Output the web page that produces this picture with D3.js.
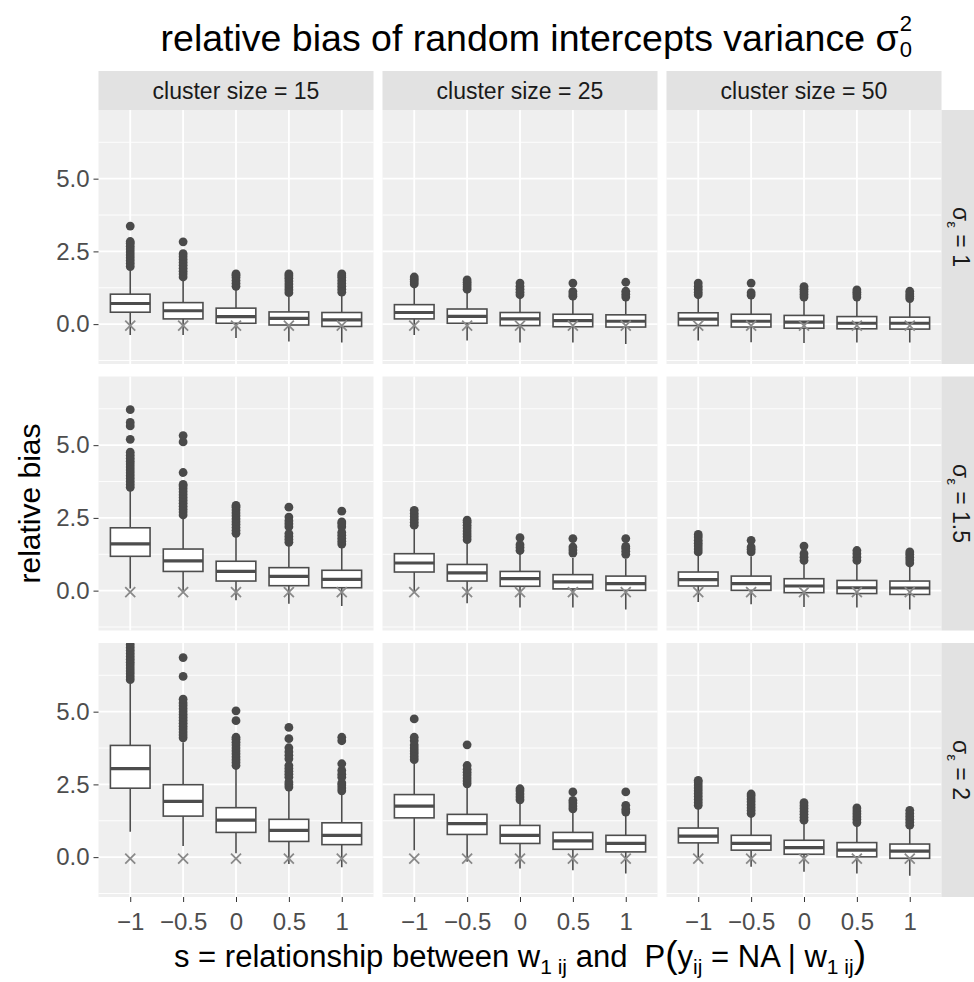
<!DOCTYPE html>
<html>
<head>
<meta charset="utf-8">
<script src="https://cdn.jsdelivr.net/npm/d3@7"></script>
<style>
  body { margin: 0; background: #fff; }
  text { font-family: "Liberation Sans", Arial, sans-serif; }
</style>
</head>
<body>
<div id="chart"></div>
<script>
(function() {
  var sLevels = ["-1", "-0.5", "0", "0.5", "1"];
  var sLabels = ["\u22121", "\u22120.5", "0", "0.5", "1"];
  var clusterSizes = ["15", "25", "50"];
  var sigmaEps = ["1", "1.5", "2"];
  var yTicks = [0, 2.5, 5];
  var yMinor = [-1.25, 1.25, 3.75, 6.25];

  // one entry per panel: sigma_eps = 1 (cs 15, 25, 50), 1.5 (...), 2 (...)
  var whiskerLow = [
    [-0.37, -0.37, -0.48, -0.60, -0.63],
    [-0.37, -0.56, -0.63, -0.63, -0.68],
    [-0.56, -0.62, -0.65, -0.63, -0.63],
    [0.07, 0.00, -0.33, -0.45, -0.53],
    [-0.05, -0.43, -0.58, -0.58, -0.65],
    [-0.39, -0.47, -0.56, -0.58, -0.65],
    [0.87, 0.38, 0.13, -0.24, -0.35],
    [0.24, -0.16, -0.39, -0.45, -0.56],
    [0.00, -0.33, -0.50, -0.56, -0.64]
  ];
  var q1 = [
    [0.41, 0.18, 0.03, -0.03, -0.08],
    [0.18, 0.03, -0.05, -0.09, -0.10],
    [-0.05, -0.10, -0.14, -0.16, -0.17],
    [1.18, 0.66, 0.33, 0.17, 0.10],
    [0.64, 0.33, 0.15, 0.06, 0.01],
    [0.16, 0.01, -0.07, -0.10, -0.13],
    [2.37, 1.41, 0.85, 0.54, 0.43],
    [1.35, 0.78, 0.47, 0.27, 0.18],
    [0.49, 0.24, 0.10, 0.01, -0.04]
  ];
  var median = [
    [0.71, 0.46, 0.26, 0.20, 0.15],
    [0.40, 0.27, 0.18, 0.12, 0.10],
    [0.17, 0.10, 0.07, 0.03, 0.03],
    [1.61, 1.02, 0.66, 0.49, 0.39],
    [0.95, 0.61, 0.41, 0.30, 0.24],
    [0.38, 0.24, 0.16, 0.10, 0.09],
    [3.04, 1.92, 1.27, 0.92, 0.75],
    [1.75, 1.15, 0.75, 0.56, 0.47],
    [0.72, 0.47, 0.33, 0.24, 0.21]
  ];
  var q3 = [
    [1.03, 0.74, 0.55, 0.42, 0.40],
    [0.67, 0.52, 0.40, 0.34, 0.32],
    [0.39, 0.34, 0.30, 0.26, 0.24],
    [2.16, 1.43, 1.01, 0.79, 0.70],
    [1.27, 0.90, 0.66, 0.55, 0.50],
    [0.64, 0.50, 0.41, 0.35, 0.33],
    [3.84, 2.49, 1.70, 1.30, 1.18],
    [2.15, 1.47, 1.09, 0.85, 0.75],
    [1.00, 0.75, 0.58, 0.50, 0.45]
  ];
  var whiskerHigh = [
    [1.85, 1.50, 1.18, 0.95, 0.97],
    [1.30, 1.10, 0.91, 0.83, 0.80],
    [0.90, 0.86, 0.80, 0.80, 0.75],
    [3.45, 2.50, 1.87, 1.56, 1.50],
    [2.13, 1.65, 1.27, 1.12, 1.10],
    [1.22, 1.18, 0.95, 0.93, 0.83],
    [5.97, 3.95, 3.04, 2.35, 2.18],
    [3.23, 2.40, 1.84, 1.55, 1.44],
    [1.67, 1.38, 1.18, 1.07, 0.98]
  ];
  var crossMark = [
    [-0.05, -0.05, -0.05, -0.05, -0.05],
    [-0.05, -0.05, -0.05, -0.05, -0.05],
    [-0.05, -0.05, -0.05, -0.05, -0.05],
    [-0.05, -0.05, -0.05, -0.05, -0.05],
    [-0.05, -0.05, -0.05, -0.05, -0.05],
    [-0.05, -0.05, -0.05, -0.05, -0.05],
    [-0.05, -0.05, -0.05, -0.05, -0.05],
    [-0.05, -0.05, -0.05, -0.05, -0.05],
    [-0.05, -0.05, -0.05, -0.05, -0.05]
  ];
  var outliers = [
    [[1.98, 2.08, 2.18, 2.28, 2.38, 2.48, 2.58, 2.68, 2.78, 2.84, 3.37],
     [1.62, 1.72, 1.82, 1.92, 2.02, 2.12, 2.22, 2.32, 2.42, 2.83],
     [1.30, 1.40, 1.50, 1.60, 1.68, 1.73],
     [1.08, 1.18, 1.28, 1.38, 1.48, 1.58, 1.66, 1.73],
     [1.10, 1.20, 1.30, 1.40, 1.50, 1.60, 1.66, 1.73]],
    [[1.38, 1.46, 1.54, 1.62],
     [1.20, 1.28, 1.36, 1.44, 1.52],
     [1.01, 1.10, 1.20, 1.30, 1.41],
     [0.96, 1.04, 1.12, 1.41],
     [0.93, 1.03, 1.13, 1.44]],
    [[1.01, 1.10, 1.20, 1.30, 1.41],
     [1.00, 1.08, 1.41],
     [0.93, 1.02, 1.11, 1.20, 1.29],
     [0.93, 1.02, 1.10, 1.18],
     [0.88, 0.96, 1.04, 1.13]],
    [[3.55, 3.65, 3.75, 3.85, 3.95, 4.05, 4.15, 4.25, 4.35, 4.45, 4.55, 4.65, 4.76, 5.20, 5.66, 5.78, 6.22],
     [2.60, 2.70, 2.80, 2.90, 3.00, 3.10, 3.20, 3.30, 3.40, 3.50, 3.60, 3.65, 4.06, 5.11, 5.33],
     [1.97, 2.07, 2.17, 2.27, 2.37, 2.47, 2.57, 2.67, 2.77, 2.87, 2.93],
     [1.66, 1.76, 1.86, 1.96, 2.20, 2.30, 2.40, 2.53, 2.87],
     [1.60, 1.70, 1.80, 1.90, 2.00, 2.20, 2.30, 2.36, 2.73]],
    [[2.25, 2.35, 2.45, 2.55, 2.65, 2.76],
     [1.75, 1.85, 1.95, 2.05, 2.15, 2.25, 2.35, 2.42],
     [1.38, 1.48, 1.58, 1.82],
     [1.29, 1.40, 1.50, 1.79],
     [1.25, 1.35, 1.45, 1.52, 1.79]],
    [[1.33, 1.43, 1.53, 1.63, 1.73, 1.84, 1.93],
     [1.33, 1.42, 1.50, 1.73],
     [1.04, 1.15, 1.27, 1.53],
     [1.04, 1.15, 1.27, 1.38],
     [0.95, 1.05, 1.15, 1.25, 1.33]],
    [[6.10, 6.20, 6.30, 6.40, 6.50, 6.60, 6.70, 6.80, 6.90, 7.00, 7.10, 7.20, 7.30],
     [4.10, 4.20, 4.30, 4.40, 4.50, 4.60, 4.70, 4.80, 4.90, 5.00, 5.10, 5.20, 5.30, 5.43, 6.21, 6.86],
     [3.15, 3.25, 3.35, 3.45, 3.55, 3.65, 3.75, 3.85, 3.95, 4.05, 4.12, 4.69, 5.03],
     [2.41, 2.50, 2.58, 2.75, 2.85, 2.95, 3.05, 3.15, 3.38, 3.50, 3.62, 3.76, 4.07, 4.46],
     [2.28, 2.38, 2.48, 2.55, 2.75, 2.85, 2.98, 3.21, 4.00, 4.12]],
    [[3.35, 3.45, 3.55, 3.65, 3.75, 3.85, 4.00, 4.12, 4.75],
     [2.52, 2.62, 2.72, 2.82, 2.92, 3.02, 3.15, 3.86],
     [1.97, 2.07, 2.17, 2.27, 2.35],
     [1.66, 1.76, 1.86, 1.95, 2.24],
     [1.55, 1.65, 1.78, 2.24]],
    [[1.78, 1.88, 1.98, 2.08, 2.18, 2.28, 2.38, 2.48, 2.58, 2.64],
     [1.50, 1.60, 1.70, 1.80, 1.90, 2.00, 2.10, 2.17],
     [1.27, 1.37, 1.47, 1.57, 1.67, 1.77, 1.87],
     [1.19, 1.29, 1.39, 1.49, 1.59, 1.69],
     [1.10, 1.20, 1.30, 1.40, 1.50, 1.61]]
  ];

  var width = 974,
     height = 982;

  var panelLeft = 98.5, panelTop = 110,
      panelW = 275, panelH = 254,
      gapX = 9, gapY = 12.5,
      stripH = 39, stripW = 32.5;

  var svg = d3.select("#chart")
  .append("svg")
  .attr("width", width)
  .attr("height", height);

  var boxColor = "#4d4d4d";

  // title, with sigma_0^2 stacked inside the same text element
  var titleSize = 37.5, titleY = 51;
  var titleCenter = panelLeft + (3 * panelW + 2 * gapX + stripW) / 2;
  var title = svg.append("text")
  .attr("x", titleCenter)
  .attr("y", titleY)
  .attr("text-anchor", "middle")
  .attr("font-size", titleSize)
  .attr("fill", "#000");
  title.append("tspan").text("relative bias of random intercepts variance \u03c3");
  title.append("tspan").attr("dx", 1).attr("dy", -20).attr("font-size", 22).text("2");
  title.append("tspan").attr("dx", -12.2).attr("dy", 26).attr("font-size", 22).text("0");

  var plotCenterX = panelLeft + (3 * panelW + 2 * gapX) / 2;
  var plotCenterY = panelTop + (3 * panelH + 2 * gapY) / 2;

  svg.append("text")
  .attr("transform", "translate(40," + plotCenterY + ") rotate(-90)")
  .attr("text-anchor", "middle")
  .attr("font-size", 30)
  .text("relative bias");

  var xt = svg.append("text")
  .attr("x", plotCenterX)
  .attr("y", 967)
  .attr("text-anchor", "middle")
  .attr("font-size", 31)
  .style("white-space", "pre");
  xt.append("tspan").text("s = relationship between w");
  xt.append("tspan").attr("dy", 7).attr("font-size", 21).text("1 ij");
  xt.append("tspan").attr("dy", -7).text(" and  P");
  xt.append("tspan").attr("font-size", 37).text("(");
  xt.append("tspan").text("y");
  xt.append("tspan").attr("dy", 7).attr("font-size", 21).text("ij");
  xt.append("tspan").attr("dy", -7).text(" = NA | w");
  xt.append("tspan").attr("dy", 7).attr("font-size", 21).text("1 ij");
  xt.append("tspan").attr("dy", -7).attr("font-size", 37).text(")");

  sigmaEps.forEach(function(se, r) {
    var top = panelTop + r * (panelH + gapY);
    var y = d3.scaleLinear().domain([-1.37, 7.36]).range([top + panelH, top]);

    clusterSizes.forEach(function(cs, c) {
      var left = panelLeft + c * (panelW + gapX);
      var x = d3.scalePoint().domain(sLevels).range([left, left + panelW]).padding(0.6);
      var bw = x.step() * 0.75;
      var p = r * 3 + c;

      var g = svg.append("g");

      // panel background and grid
      g.append("rect")
      .attr("x", left).attr("y", top)
      .attr("width", panelW).attr("height", panelH)
      .attr("fill", "#efefef");

      g.selectAll(".minor")
      .data(yMinor)
      .enter()
      .append("line")
      .attr("x1", left).attr("x2", left + panelW)
      .attr("y1", function(d) { return y(d); })
      .attr("y2", function(d) { return y(d); })
      .attr("stroke", "#fff").attr("stroke-width", 0.9);

      g.selectAll(".major")
      .data(yTicks)
      .enter()
      .append("line")
      .attr("x1", left).attr("x2", left + panelW)
      .attr("y1", function(d) { return y(d); })
      .attr("y2", function(d) { return y(d); })
      .attr("stroke", "#fff").attr("stroke-width", 1.8);

      g.selectAll(".vgrid")
      .data(sLevels)
      .enter()
      .append("line")
      .attr("x1", function(d) { return x(d); })
      .attr("x2", function(d) { return x(d); })
      .attr("y1", top).attr("y2", top + panelH)
      .attr("stroke", "#fff").attr("stroke-width", 1.8);

      var boxes = sLevels.map(function(s, i) {
        return {
          s: s, lo: whiskerLow[p][i], q1: q1[p][i], med: median[p][i],
          q3: q3[p][i], hi: whiskerHigh[p][i], mark: crossMark[p][i],
          out: outliers[p][i]
        };
      });

      var clip = "clip" + p;
      svg.append("clipPath").attr("id", clip)
      .append("rect")
      .attr("x", left).attr("y", top)
      .attr("width", panelW).attr("height", panelH);

      var box = g.append("g").attr("clip-path", "url(#" + clip + ")")
      .selectAll(".box")
      .data(boxes)
      .enter()
      .append("g");

      box.append("line")
      .attr("x1", function(d) { return x(d.s); })
      .attr("x2", function(d) { return x(d.s); })
      .attr("y1", function(d) { return y(d.hi); })
      .attr("y2", function(d) { return y(d.q3); })
      .attr("stroke", boxColor).attr("stroke-width", 1.6);

      box.append("line")
      .attr("x1", function(d) { return x(d.s); })
      .attr("x2", function(d) { return x(d.s); })
      .attr("y1", function(d) { return y(d.q1); })
      .attr("y2", function(d) { return y(d.lo); })
      .attr("stroke", boxColor).attr("stroke-width", 1.6);

      box.append("rect")
      .attr("x", function(d) { return x(d.s) - bw / 2; })
      .attr("width", bw)
      .attr("y", function(d) { return y(d.q3); })
      .attr("height", function(d) { return y(d.q1) - y(d.q3); })
      .attr("fill", "#fff")
      .attr("stroke", boxColor).attr("stroke-width", 1.6);

      box.append("line")
      .attr("x1", function(d) { return x(d.s) - bw / 2; })
      .attr("x2", function(d) { return x(d.s) + bw / 2; })
      .attr("y1", function(d) { return y(d.med); })
      .attr("y2", function(d) { return y(d.med); })
      .attr("stroke", boxColor).attr("stroke-width", 3.2);

      box.selectAll(".out")
      .data(function(d) { return d.out.map(function(v) { return { s: d.s, v: v }; }); })
      .enter()
      .append("circle")
      .attr("cx", function(d) { return x(d.s); })
      .attr("cy", function(d) { return y(d.v); })
      .attr("r", 4.4)
      .attr("fill", "#4a4a4a");

      // cross marker
      box.append("path")
      .attr("d", function(d) {
        var cx = x(d.s), cy = y(d.mark), k = 5;
        return "M" + (cx - k) + "," + (cy - k) + "L" + (cx + k) + "," + (cy + k) +
          "M" + (cx - k) + "," + (cy + k) + "L" + (cx + k) + "," + (cy - k);
      })
      .attr("stroke", "#8a8a8a").attr("stroke-width", 1.8).attr("fill", "none");

      // top strips
      if (r === 0) {
        svg.append("rect")
        .attr("x", left).attr("y", top - stripH)
        .attr("width", panelW).attr("height", stripH)
        .attr("fill", "#e2e2e2");
        svg.append("text")
        .attr("x", left + panelW / 2).attr("y", top - stripH / 2 + 8)
        .attr("text-anchor", "middle")
        .attr("font-size", 23)
        .attr("fill", "#1a1a1a")
        .text("cluster size = " + cs);
      }

      // x axis
      if (r === 2) {
        var xa = svg.append("g")
        .attr("transform", "translate(0," + (top + panelH) + ")")
        .call(d3.axisBottom(x).tickSize(5).tickPadding(11)
          .tickFormat(function(d, i) { return sLabels[i]; }));
        xa.select(".domain").remove();
        xa.selectAll("line").attr("stroke", "#333");
        xa.selectAll("text").attr("font-size", 24).attr("fill", "#4d4d4d")
        .attr("font-family", null);
      }

      // y axis
      if (c === 0) {
        var ya = svg.append("g")
        .attr("transform", "translate(" + left + ",0)")
        .call(d3.axisLeft(y).tickValues(yTicks).tickSize(5).tickPadding(4)
          .tickFormat(d3.format(".1f")));
        ya.select(".domain").remove();
        ya.selectAll("line").attr("stroke", "#333");
        ya.selectAll("text").attr("font-size", 24).attr("fill", "#4d4d4d")
        .attr("font-family", null);
      }
    });

    // right strip
    var sx = panelLeft + 3 * panelW + 2 * gapX;
    svg.append("rect")
    .attr("x", sx).attr("y", top)
    .attr("width", stripW).attr("height", panelH)
    .attr("fill", "#e2e2e2");
    var st = svg.append("text")
    .attr("transform", "translate(" + (sx + stripW / 2 - 5) + "," + (top + panelH / 2) + ") rotate(90)")
    .attr("text-anchor", "middle")
    .attr("font-size", 23)
    .attr("fill", "#1a1a1a");
    st.append("tspan").text("\u03c3");
    st.append("tspan").attr("dy", 6).attr("font-size", 15).text("\u03b5");
    st.append("tspan").attr("dy", -6).text(" = " + se);
  });
})();
</script>
</body>
</html>
